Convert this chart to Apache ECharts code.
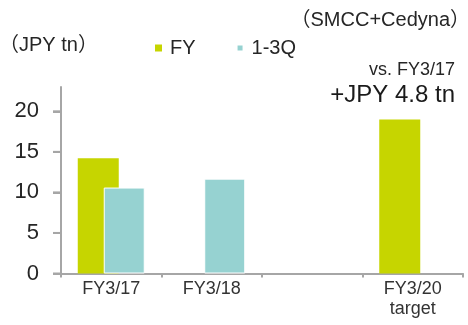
<!DOCTYPE html>
<html>
<head>
<meta charset="utf-8">
<script src="https://cdn.jsdelivr.net/npm/echarts@6/dist/echarts.min.js"></script>
<style>
  html, body { margin: 0; padding: 0; background: #fff; }
  #chart { width: 468px; height: 325px; }
</style>
</head>
<body>
<div id="chart"></div>
<script>
// Card loans balance, SMCC + Cedyna (JPY tn)
const categories = ['FY3/17', 'FY3/18', '', 'FY3/20\ntarget'];
const fyValues = [14.2, null, null, 19.0];
const q13Values = [10.6, 11.7, null, null];
const yTicks = [0, 5, 10, 15, 20];

const FONT = '"Liberation Sans", Arial, "Noto Sans CJK JP", sans-serif';
const FY_COLOR = '#c6d500';
const Q_COLOR = '#96d2d1';
const AXIS_COLOR = '#a6a6a6';
const TICK_LEN = 8;

const chart = echarts.init(document.getElementById('chart'));
chart.setOption({
  animation: false,
  backgroundColor: '#ffffff',
  textStyle: { fontFamily: FONT },
  title: [
    { text: '（SMCC+Cedyna）', right: -7, top: 5,
      textStyle: { fontFamily: FONT, fontSize: 20, fontWeight: 'normal', color: '#262626' } },
    { text: '（JPY tn）', left: -6, top: 30,
      textStyle: { fontFamily: FONT, fontSize: 20, fontWeight: 'normal', color: '#262626' } },
    { text: 'vs. FY3/17', right: 8, top: 56,
      textStyle: { fontFamily: FONT, fontSize: 18, fontWeight: 'normal', color: '#262626' } },
    { text: '+JPY 4.8 tn', right: 8, top: 78,
      textStyle: { fontFamily: FONT, fontSize: 24, fontWeight: 'normal', color: '#1a1a1a' } }
  ],
  legend: {
    left: 150, top: 33,
    icon: 'rect', itemWidth: 7, itemHeight: 7, itemGap: 40,
    textStyle: { fontFamily: FONT, fontSize: 20, color: '#262626', padding: [0, 0, 0, 3] },
    data: ['FY', '1-3Q']
  },
  grid: { left: 61, right: 5, top: 87, bottom: 51.5 },
  xAxis: {
    type: 'category',
    data: categories,
    axisLine: { lineStyle: { color: AXIS_COLOR, width: 2 } },
    axisTick: { show: true, length: 4, lineStyle: { color: AXIS_COLOR, width: 2 } },
    axisLabel: { fontFamily: FONT, fontSize: 18, color: '#333', margin: 6, lineHeight: 20, interval: 0 }
  },
  yAxis: {
    type: 'value',
    min: 0, max: 23, interval: 5,
    splitLine: { show: false },
    axisLine: { show: true, lineStyle: { color: AXIS_COLOR, width: 2 } },
    axisTick: { show: true, length: TICK_LEN, customValues: yTicks, lineStyle: { color: AXIS_COLOR, width: 2 } },
    axisLabel: {
      fontFamily: FONT, fontSize: 22, color: '#262626', margin: 22,
      formatter: v => (yTicks.indexOf(v) >= 0 ? String(v) : '')
    }
  },
  series: [
    {
      name: 'FY', type: 'bar', data: fyValues,
      barWidth: 41, barGap: '-36.6%',
      itemStyle: { color: FY_COLOR }
    },
    {
      name: '1-3Q', type: 'bar', data: q13Values,
      barWidth: 41,
      itemStyle: { color: Q_COLOR, borderColor: '#ffffff', borderWidth: 1 }
    },
    {
      // outward tick marks on the value axis, placed through the axis scales
      name: 'yTickMarks', type: 'custom', silent: true, clip: false, z: 5,
      encode: { x: 0, y: 1 },
      data: yTicks.map(v => [0, v]),
      renderItem: (params, api) => {
        const p = api.coord([api.value(0), api.value(1)]);
        const edge = p[0] - api.size([1, 0])[0] / 2;
        return {
          type: 'line',
          shape: { x1: edge - TICK_LEN, y1: p[1], x2: edge, y2: p[1] },
          style: { stroke: AXIS_COLOR, lineWidth: 2 }
        };
      }
    }
  ]
});
</script>
</body>
</html>
